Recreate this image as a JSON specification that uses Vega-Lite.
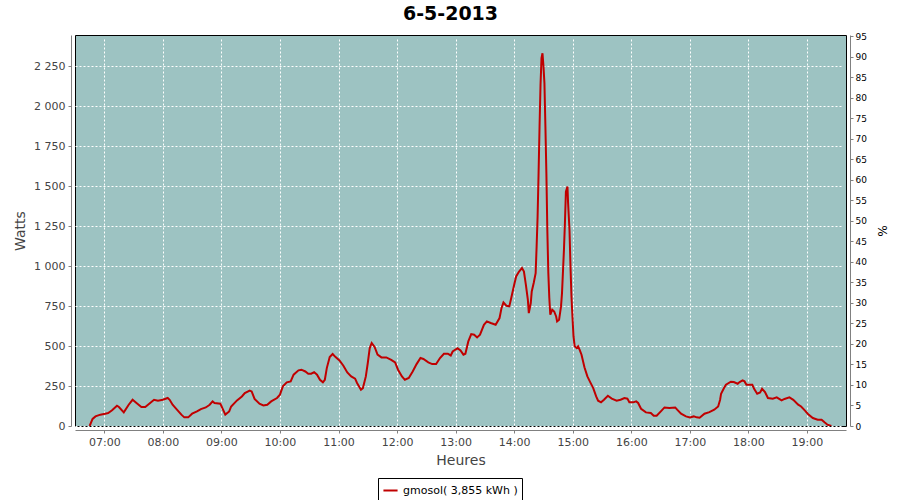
{
  "$schema": "https://vega.github.io/schema/vega-lite/v6.json",
  "width": 771,
  "height": 391,
  "autosize": {"type": "none"},
  "padding": {"left": 75, "top": 35, "right": 54, "bottom": 74},
  "background": "white",
  "title": {"text": "6-5-2013", "font": "DejaVu Sans", "fontSize": 19, "fontWeight": "bold", "color": "black", "anchor": "middle", "dx": -10, "offset": 8},
  "config": {
    "locale": {"number": {"decimal": ",", "thousands": " ", "grouping": [3], "currency": ["", " €"]}},
    "view": {"stroke": "black", "strokeWidth": 1, "fill": "#9DC3C2"},
    "axis": {"labelFont": "DejaVu Sans", "labelFontSize": 11, "labelColor": "#444444", "titleFont": "DejaVu Sans", "titleFontSize": 14, "titleFontWeight": "normal", "titleColor": "#444444", "domainColor": "#808080", "tickColor": "#808080", "tickSize": 3, "offset": 4, "gridColor": "white", "gridDash": [2, 2], "gridOpacity": 1, "gridWidth": 1}
  },
  "resolve": {"scale": {"y": "independent"}},
  "layer": [
    {
      "data": {"values": [
        {"t": "2013-05-06T06:45:00", "w": 0}, {"t": "2013-05-06T06:48:00", "w": 44}, {"t": "2013-05-06T06:51:00", "w": 60}, {"t": "2013-05-06T06:56:00", "w": 71},
        {"t": "2013-05-06T07:01:00", "w": 77}, {"t": "2013-05-06T07:04:00", "w": 81}, {"t": "2013-05-06T07:08:00", "w": 98}, {"t": "2013-05-06T07:13:00", "w": 127},
        {"t": "2013-05-06T07:15:00", "w": 119}, {"t": "2013-05-06T07:20:00", "w": 85}, {"t": "2013-05-06T07:25:00", "w": 133}, {"t": "2013-05-06T07:29:00", "w": 164},
        {"t": "2013-05-06T07:33:00", "w": 144}, {"t": "2013-05-06T07:38:00", "w": 119}, {"t": "2013-05-06T07:42:00", "w": 119}, {"t": "2013-05-06T07:47:00", "w": 144},
        {"t": "2013-05-06T07:51:00", "w": 164}, {"t": "2013-05-06T07:55:00", "w": 158}, {"t": "2013-05-06T08:00:00", "w": 164}, {"t": "2013-05-06T08:05:00", "w": 175},
        {"t": "2013-05-06T08:07:00", "w": 164}, {"t": "2013-05-06T08:10:00", "w": 133}, {"t": "2013-05-06T08:14:00", "w": 106}, {"t": "2013-05-06T08:19:00", "w": 71},
        {"t": "2013-05-06T08:22:00", "w": 54}, {"t": "2013-05-06T08:26:00", "w": 54}, {"t": "2013-05-06T08:30:00", "w": 77}, {"t": "2013-05-06T08:35:00", "w": 91},
        {"t": "2013-05-06T08:39:00", "w": 106}, {"t": "2013-05-06T08:44:00", "w": 116}, {"t": "2013-05-06T08:48:00", "w": 133}, {"t": "2013-05-06T08:51:00", "w": 154},
        {"t": "2013-05-06T08:53:00", "w": 144}, {"t": "2013-05-06T08:59:00", "w": 139}, {"t": "2013-05-06T09:01:00", "w": 112}, {"t": "2013-05-06T09:04:00", "w": 71},
        {"t": "2013-05-06T09:08:00", "w": 91}, {"t": "2013-05-06T09:10:00", "w": 122}, {"t": "2013-05-06T09:16:00", "w": 160}, {"t": "2013-05-06T09:21:00", "w": 185},
        {"t": "2013-05-06T09:24:00", "w": 206}, {"t": "2013-05-06T09:29:00", "w": 222}, {"t": "2013-05-06T09:31:00", "w": 216}, {"t": "2013-05-06T09:34:00", "w": 169},
        {"t": "2013-05-06T09:39:00", "w": 139}, {"t": "2013-05-06T09:43:00", "w": 129}, {"t": "2013-05-06T09:47:00", "w": 133}, {"t": "2013-05-06T09:51:00", "w": 154},
        {"t": "2013-05-06T09:57:00", "w": 175}, {"t": "2013-05-06T10:00:00", "w": 196}, {"t": "2013-05-06T10:03:00", "w": 248}, {"t": "2013-05-06T10:07:00", "w": 273},
        {"t": "2013-05-06T10:11:00", "w": 279}, {"t": "2013-05-06T10:14:00", "w": 321}, {"t": "2013-05-06T10:19:00", "w": 348}, {"t": "2013-05-06T10:22:00", "w": 352},
        {"t": "2013-05-06T10:26:00", "w": 341}, {"t": "2013-05-06T10:29:00", "w": 327}, {"t": "2013-05-06T10:32:00", "w": 327}, {"t": "2013-05-06T10:35:00", "w": 337},
        {"t": "2013-05-06T10:38:00", "w": 321}, {"t": "2013-05-06T10:41:00", "w": 289}, {"t": "2013-05-06T10:44:00", "w": 273}, {"t": "2013-05-06T10:46:00", "w": 289},
        {"t": "2013-05-06T10:48:00", "w": 362}, {"t": "2013-05-06T10:51:00", "w": 431}, {"t": "2013-05-06T10:54:00", "w": 450}, {"t": "2013-05-06T10:57:00", "w": 431},
        {"t": "2013-05-06T11:01:00", "w": 410}, {"t": "2013-05-06T11:05:00", "w": 377}, {"t": "2013-05-06T11:09:00", "w": 335}, {"t": "2013-05-06T11:13:00", "w": 310},
        {"t": "2013-05-06T11:17:00", "w": 296}, {"t": "2013-05-06T11:19:00", "w": 269}, {"t": "2013-05-06T11:23:00", "w": 227}, {"t": "2013-05-06T11:25:00", "w": 237},
        {"t": "2013-05-06T11:28:00", "w": 310}, {"t": "2013-05-06T11:30:00", "w": 394}, {"t": "2013-05-06T11:32:00", "w": 487}, {"t": "2013-05-06T11:34:00", "w": 519},
        {"t": "2013-05-06T11:37:00", "w": 494}, {"t": "2013-05-06T11:40:00", "w": 446}, {"t": "2013-05-06T11:44:00", "w": 429}, {"t": "2013-05-06T11:49:00", "w": 429},
        {"t": "2013-05-06T11:54:00", "w": 414}, {"t": "2013-05-06T11:58:00", "w": 398}, {"t": "2013-05-06T12:01:00", "w": 352}, {"t": "2013-05-06T12:05:00", "w": 310},
        {"t": "2013-05-06T12:08:00", "w": 289}, {"t": "2013-05-06T12:12:00", "w": 300}, {"t": "2013-05-06T12:16:00", "w": 341}, {"t": "2013-05-06T12:20:00", "w": 387},
        {"t": "2013-05-06T12:24:00", "w": 425}, {"t": "2013-05-06T12:27:00", "w": 419}, {"t": "2013-05-06T12:32:00", "w": 398}, {"t": "2013-05-06T12:36:00", "w": 387},
        {"t": "2013-05-06T12:40:00", "w": 387}, {"t": "2013-05-06T12:44:00", "w": 425}, {"t": "2013-05-06T12:48:00", "w": 452}, {"t": "2013-05-06T12:52:00", "w": 452},
        {"t": "2013-05-06T12:55:00", "w": 441}, {"t": "2013-05-06T12:57:00", "w": 466}, {"t": "2013-05-06T13:02:00", "w": 487}, {"t": "2013-05-06T13:05:00", "w": 473},
        {"t": "2013-05-06T13:08:00", "w": 446}, {"t": "2013-05-06T13:10:00", "w": 452}, {"t": "2013-05-06T13:13:00", "w": 529}, {"t": "2013-05-06T13:16:00", "w": 575},
        {"t": "2013-05-06T13:19:00", "w": 571}, {"t": "2013-05-06T13:22:00", "w": 554}, {"t": "2013-05-06T13:25:00", "w": 571}, {"t": "2013-05-06T13:29:00", "w": 633},
        {"t": "2013-05-06T13:32:00", "w": 654}, {"t": "2013-05-06T13:36:00", "w": 644}, {"t": "2013-05-06T13:41:00", "w": 633}, {"t": "2013-05-06T13:45:00", "w": 675},
        {"t": "2013-05-06T13:47:00", "w": 737}, {"t": "2013-05-06T13:49:00", "w": 773}, {"t": "2013-05-06T13:52:00", "w": 752}, {"t": "2013-05-06T13:55:00", "w": 748},
        {"t": "2013-05-06T13:57:00", "w": 800}, {"t": "2013-05-06T14:00:00", "w": 883}, {"t": "2013-05-06T14:02:00", "w": 935}, {"t": "2013-05-06T14:05:00", "w": 966},
        {"t": "2013-05-06T14:08:00", "w": 988}, {"t": "2013-05-06T14:10:00", "w": 966}, {"t": "2013-05-06T14:12:00", "w": 883}, {"t": "2013-05-06T14:14:00", "w": 790},
        {"t": "2013-05-06T14:15:00", "w": 706}, {"t": "2013-05-06T14:17:00", "w": 769}, {"t": "2013-05-06T14:18:00", "w": 841}, {"t": "2013-05-06T14:20:00", "w": 894},
        {"t": "2013-05-06T14:22:00", "w": 956}, {"t": "2013-05-06T14:23:00", "w": 1123}, {"t": "2013-05-06T14:24:00", "w": 1310}, {"t": "2013-05-06T14:25:00", "w": 1581},
        {"t": "2013-05-06T14:26:00", "w": 1873}, {"t": "2013-05-06T14:27:00", "w": 2133}, {"t": "2013-05-06T14:28:00", "w": 2300}, {"t": "2013-05-06T14:29:00", "w": 2331},
        {"t": "2013-05-06T14:30:00", "w": 2250}, {"t": "2013-05-06T14:31:00", "w": 2144}, {"t": "2013-05-06T14:32:00", "w": 1873}, {"t": "2013-05-06T14:33:00", "w": 1581},
        {"t": "2013-05-06T14:34:00", "w": 1216}, {"t": "2013-05-06T14:35:00", "w": 956}, {"t": "2013-05-06T14:36:00", "w": 800}, {"t": "2013-05-06T14:37:00", "w": 696},
        {"t": "2013-05-06T14:39:00", "w": 727}, {"t": "2013-05-06T14:41:00", "w": 716}, {"t": "2013-05-06T14:43:00", "w": 685}, {"t": "2013-05-06T14:44:00", "w": 654},
        {"t": "2013-05-06T14:46:00", "w": 664}, {"t": "2013-05-06T14:48:00", "w": 748}, {"t": "2013-05-06T14:49:00", "w": 831}, {"t": "2013-05-06T14:51:00", "w": 1102},
        {"t": "2013-05-06T14:52:00", "w": 1269}, {"t": "2013-05-06T14:53:00", "w": 1466}, {"t": "2013-05-06T14:54:36", "w": 1498}, {"t": "2013-05-06T14:55:14", "w": 1394},
        {"t": "2013-05-06T14:56:40", "w": 1227}, {"t": "2013-05-06T14:57:42", "w": 998}, {"t": "2013-05-06T14:58:42", "w": 810}, {"t": "2013-05-06T14:59:42", "w": 685},
        {"t": "2013-05-06T15:00:48", "w": 560}, {"t": "2013-05-06T15:02:00", "w": 498}, {"t": "2013-05-06T15:04:00", "w": 487}, {"t": "2013-05-06T15:05:30", "w": 498},
        {"t": "2013-05-06T15:07:00", "w": 477}, {"t": "2013-05-06T15:09:00", "w": 446}, {"t": "2013-05-06T15:12:00", "w": 367}, {"t": "2013-05-06T15:15:00", "w": 310},
        {"t": "2013-05-06T15:17:30", "w": 279}, {"t": "2013-05-06T15:21:00", "w": 237}, {"t": "2013-05-06T15:24:00", "w": 185}, {"t": "2013-05-06T15:26:00", "w": 158},
        {"t": "2013-05-06T15:29:00", "w": 148}, {"t": "2013-05-06T15:32:00", "w": 164}, {"t": "2013-05-06T15:36:00", "w": 189}, {"t": "2013-05-06T15:40:00", "w": 171},
        {"t": "2013-05-06T15:45:00", "w": 158}, {"t": "2013-05-06T15:49:00", "w": 164}, {"t": "2013-05-06T15:53:00", "w": 175}, {"t": "2013-05-06T15:56:00", "w": 171},
        {"t": "2013-05-06T15:58:00", "w": 148}, {"t": "2013-05-06T16:02:00", "w": 148}, {"t": "2013-05-06T16:05:00", "w": 154}, {"t": "2013-05-06T16:07:00", "w": 144},
        {"t": "2013-05-06T16:10:00", "w": 108}, {"t": "2013-05-06T16:15:00", "w": 85}, {"t": "2013-05-06T16:20:00", "w": 81}, {"t": "2013-05-06T16:23:00", "w": 64},
        {"t": "2013-05-06T16:26:00", "w": 64}, {"t": "2013-05-06T16:31:00", "w": 96}, {"t": "2013-05-06T16:34:00", "w": 116}, {"t": "2013-05-06T16:39:00", "w": 112},
        {"t": "2013-05-06T16:45:00", "w": 116}, {"t": "2013-05-06T16:47:00", "w": 102}, {"t": "2013-05-06T16:51:00", "w": 77}, {"t": "2013-05-06T16:56:00", "w": 60},
        {"t": "2013-05-06T17:00:00", "w": 54}, {"t": "2013-05-06T17:04:00", "w": 60}, {"t": "2013-05-06T17:07:00", "w": 54}, {"t": "2013-05-06T17:10:00", "w": 52},
        {"t": "2013-05-06T17:15:00", "w": 77}, {"t": "2013-05-06T17:20:00", "w": 87}, {"t": "2013-05-06T17:25:00", "w": 102}, {"t": "2013-05-06T17:29:00", "w": 122},
        {"t": "2013-05-06T17:31:00", "w": 164}, {"t": "2013-05-06T17:32:00", "w": 202}, {"t": "2013-05-06T17:35:00", "w": 237}, {"t": "2013-05-06T17:37:00", "w": 258},
        {"t": "2013-05-06T17:42:00", "w": 277}, {"t": "2013-05-06T17:45:00", "w": 275}, {"t": "2013-05-06T17:49:00", "w": 264}, {"t": "2013-05-06T17:51:00", "w": 275},
        {"t": "2013-05-06T17:54:00", "w": 285}, {"t": "2013-05-06T17:56:00", "w": 279}, {"t": "2013-05-06T17:58:00", "w": 258}, {"t": "2013-05-06T18:01:00", "w": 258},
        {"t": "2013-05-06T18:04:00", "w": 258}, {"t": "2013-05-06T18:06:00", "w": 231}, {"t": "2013-05-06T18:09:00", "w": 202}, {"t": "2013-05-06T18:12:00", "w": 210},
        {"t": "2013-05-06T18:14:00", "w": 233}, {"t": "2013-05-06T18:17:00", "w": 212}, {"t": "2013-05-06T18:20:00", "w": 175}, {"t": "2013-05-06T18:25:00", "w": 171},
        {"t": "2013-05-06T18:29:00", "w": 179}, {"t": "2013-05-06T18:34:00", "w": 160}, {"t": "2013-05-06T18:37:00", "w": 169}, {"t": "2013-05-06T18:42:00", "w": 179},
        {"t": "2013-05-06T18:46:00", "w": 164}, {"t": "2013-05-06T18:51:00", "w": 133}, {"t": "2013-05-06T18:54:00", "w": 122}, {"t": "2013-05-06T18:58:00", "w": 96},
        {"t": "2013-05-06T19:01:00", "w": 75}, {"t": "2013-05-06T19:06:00", "w": 50}, {"t": "2013-05-06T19:11:00", "w": 39}, {"t": "2013-05-06T19:15:00", "w": 39},
        {"t": "2013-05-06T19:18:00", "w": 23}, {"t": "2013-05-06T19:21:00", "w": 8}, {"t": "2013-05-06T19:25:00", "w": 0}
      ]},
      "mark": {"type": "line", "strokeWidth": 2, "clip": true},
      "encoding": {
        "x": {
          "field": "t", "type": "temporal",
          "scale": {"domain": [{"year": 2013, "month": 5, "date": 6, "hours": 6, "minutes": 30}, {"year": 2013, "month": 5, "date": 6, "hours": 19, "minutes": 40}]},
          "axis": {"title": "Heures", "format": "%H:%M", "values": [
            {"year": 2013, "month": 5, "date": 6, "hours": 7}, {"year": 2013, "month": 5, "date": 6, "hours": 8}, {"year": 2013, "month": 5, "date": 6, "hours": 9},
            {"year": 2013, "month": 5, "date": 6, "hours": 10}, {"year": 2013, "month": 5, "date": 6, "hours": 11}, {"year": 2013, "month": 5, "date": 6, "hours": 12},
            {"year": 2013, "month": 5, "date": 6, "hours": 13}, {"year": 2013, "month": 5, "date": 6, "hours": 14}, {"year": 2013, "month": 5, "date": 6, "hours": 15},
            {"year": 2013, "month": 5, "date": 6, "hours": 16}, {"year": 2013, "month": 5, "date": 6, "hours": 17}, {"year": 2013, "month": 5, "date": 6, "hours": 18},
            {"year": 2013, "month": 5, "date": 6, "hours": 19}], "labelPadding": 3, "titlePadding": 6}
        },
        "y": {
          "field": "w", "type": "quantitative",
          "scale": {"domain": [0, 2445], "nice": false},
          "axis": {"title": "Watts", "values": [0, 250, 500, 750, 1000, 1250, 1500, 1750, 2000, 2250], "format": ",d", "labelPadding": 3, "titlePadding": 6}
        },
        "color": {
          "datum": "gmosol( 3,855 kWh )",
          "scale": {"range": ["#C00000"]},
          "legend": {"orient": "none", "legendX": 303, "legendY": 443, "title": null, "symbolType": "stroke", "symbolStrokeWidth": 2, "symbolSize": 200, "labelFont": "DejaVu Sans", "labelFontSize": 11, "labelColor": "black", "strokeColor": "black", "fillColor": "white", "padding": 4}
        }
      }
    },
    {
      "data": {"values": [{"p": 0}]},
      "mark": {"type": "point", "opacity": 0},
      "encoding": {
        "y": {
          "field": "p", "type": "quantitative",
          "scale": {"domain": [0, 95.3], "nice": false},
          "axis": {"orient": "right", "title": "%", "grid": false, "values": [0, 5, 10, 15, 20, 25, 30, 35, 40, 45, 50, 55, 60, 65, 70, 75, 80, 85, 90, 95], "labelFontSize": 9, "labelColor": "black", "labelPadding": 2, "titleColor": "black", "titleFontSize": 12, "titlePadding": 8}
        }
      }
    }
  ]
}
